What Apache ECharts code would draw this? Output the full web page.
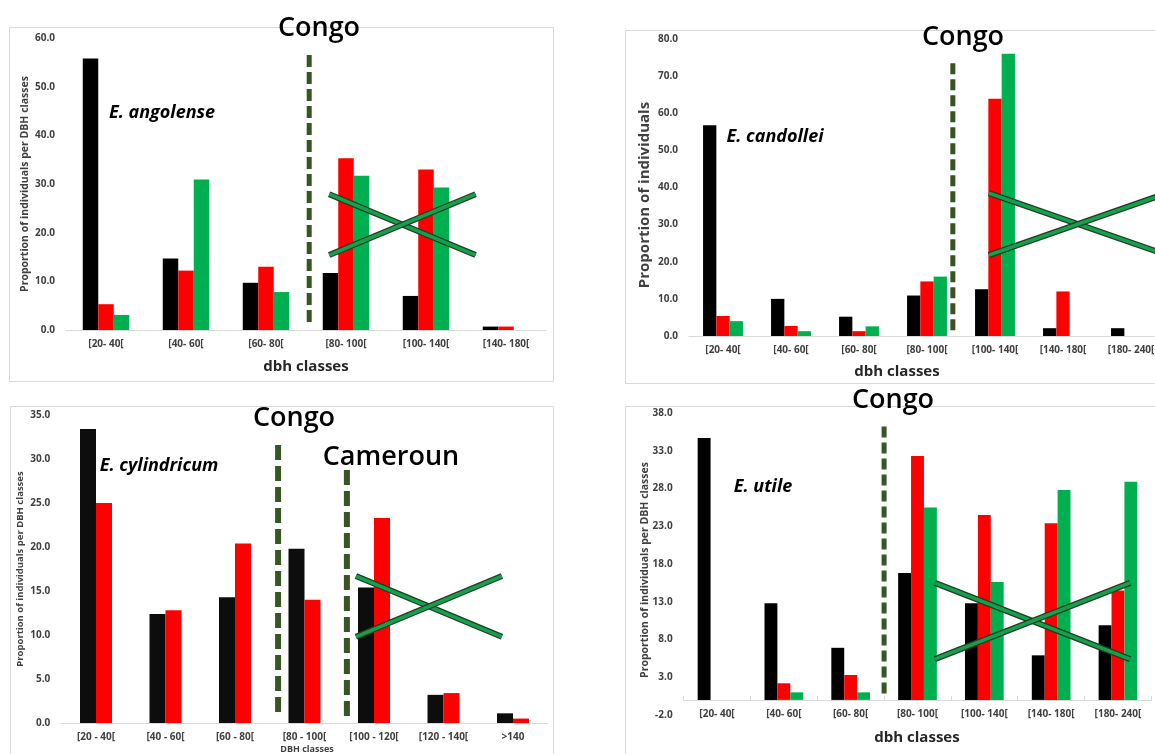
<!DOCTYPE html>
<html>
<head>
<meta charset="utf-8">
<script src="https://cdn.jsdelivr.net/npm/echarts@6/dist/echarts.min.js"></script>
<style>
  html, body { margin: 0; padding: 0; background: #fff; }
  #chart { width: 1155px; height: 754px; }
</style>
</head>
<body>
<div id="chart"></div>
<script>
// E. angolense (top left)
const catsAng = ['[20- 40[', '[40- 60[', '[60- 80[', '[80- 100[', '[100- 140[', '[140- 180[']
const angBlack = [55.8, 14.7, 9.7, 11.7, 7.0, 0.7]
const angRed = [5.3, 12.2, 13.0, 35.3, 33.0, 0.7]
const angGreen = [3.1, 30.9, 7.8, 31.7, 29.3, 0]
const ticksAng = [0, 10, 20, 30, 40, 50, 60]

// E. candollei (top right)
const catsCan = ['[20- 40[', '[40- 60[', '[60- 80[', '[80- 100[', '[100- 140[', '[140- 180[', '[180- 240[']
const canBlack = [56.8, 10.0, 5.2, 10.9, 12.6, 2.1, 2.1]
const canRed = [5.4, 2.7, 1.3, 14.7, 63.9, 12.0, 0]
const canGreen = [4.0, 1.3, 2.6, 16.0, 76.0, 0, 0]
const ticksCan = [0, 10, 20, 30, 40, 50, 60, 70, 80]

// E. cylindricum (bottom left)
const catsCyl = ['[20 - 40[', '[40 - 60[', '[60 - 80[', '[80 - 100[', '[100 - 120[', '[120 - 140[', '>140']
const cylBlack = [33.4, 12.4, 14.3, 19.8, 15.4, 3.2, 1.1]
const cylRed = [25.0, 12.8, 20.4, 14.0, 23.3, 3.4, 0.5]
const ticksCyl = [0, 5, 10, 15, 20, 25, 30, 35]

// E. utile (bottom right)
const catsUti = ['[20- 40[', '[40- 60[', '[60- 80[', '[80- 100[', '[100- 140[', '[140- 180[', '[180- 240[']
const utiBlack = [34.7, 12.8, 6.9, 16.8, 12.8, 5.9, 9.9]
const utiRed = [0, 2.2, 3.3, 32.3, 24.5, 23.4, 14.5]
const utiGreen = [0, 1.0, 1.0, 25.5, 15.6, 27.8, 28.9]
const ticksUti = [-2, 3, 8, 13, 18, 23, 28, 33, 38]

// annotations, in category index / value units
const dashAng = [[2.54, 56.5], [2.54, 1.0]]
const crossAng = [[[2.79, 27.9], [4.62, 15.4]], [[2.79, 15.4], [4.62, 27.9]]]
const dashCan = [[3.38, 73.5], [3.38, 0.8]]
const crossCan = [[[3.91, 38.5], [6.5, 22.0]], [[3.91, 21.8], [6.5, 38.3]]]
const dashCyl1 = [[2.62, 31.6], [2.62, 0.9]]
const dashCyl2 = [[3.61, 28.75], [3.61, 0.6]]
const crossCyl = [[[3.74, 16.7], [5.84, 9.8]], [[3.74, 9.8], [5.84, 16.7]]]
const dashUti = [[2.5, 36.2], [2.5, 0.3]]
const crossUti = [[[3.26, 15.5], [6.18, 5.4]], [[3.26, 5.4], [6.18, 15.5]]]

const FONT = '"Open Sans", sans-serif'
const BLACK = '#000000'
const RED = '#ff0000'
const GREEN = '#00b050'
const DASH = '#375623'

const grids = [
  { left: 66, top: 38, width: 480, height: 292 },
  { left: 689, top: 39, width: 476, height: 297 },
  { left: 61.25, top: 415, width: 486.5, height: 308 },
  { left: 683.6, top: 413, width: 467.8, height: 302 }
]
const catList = [catsAng, catsCan, catsCyl, catsUti]
const tickList = [ticksAng, ticksCan, ticksCyl, ticksUti]

const xAxes = []
const yAxes = []
catList.forEach((cats, i) => {
  xAxes.push({
    type: 'category',
    gridIndex: i,
    data: cats,
    axisLine: { lineStyle: { color: '#d9d9d9', width: 1 } },
    axisTick: i === 3
      ? { show: true, inside: true, length: 4, lineStyle: { color: '#d9d9d9' } }
      : { show: false },
    axisLabel: {
      interval: 0,
      // the last panel's axis sits on 0, not on the grid bottom (-2)
      margin: i === 3 ? -6 : 9,
      fontSize: 10,
      fontWeight: 'bold',
      fontFamily: FONT,
      color: '#404040'
    }
  })
  xAxes.push({
    type: 'value',
    gridIndex: i,
    show: false,
    min: -0.5,
    max: cats.length - 0.5
  })
  const t = tickList[i]
  yAxes.push({
    type: 'value',
    gridIndex: i,
    min: t[0],
    max: t[t.length - 1],
    interval: t[1] - t[0],
    axisLine: { show: false },
    axisTick: { show: false },
    splitLine: { show: false },
    axisLabel: {
      margin: 11,
      fontSize: 10,
      fontWeight: 'bold',
      fontFamily: FONT,
      color: '#404040',
      formatter: v => v.toFixed(1)
    }
  })
})

function bars(data, color, g, w) {
  return {
    type: 'bar',
    data: data,
    xAxisIndex: g * 2,
    yAxisIndex: g,
    barWidth: w,
    barGap: '0%',
    itemStyle: { color: color },
    silent: true
  }
}

function seg(g, pts, color, width, dash) {
  return {
    type: 'line',
    data: pts,
    xAxisIndex: g * 2 + 1,
    yAxisIndex: g,
    symbol: 'none',
    silent: true,
    clip: false,
    z: 5,
    lineStyle: { color: color, width: width, type: dash || 'solid', cap: 'butt' }
  }
}

function cross(g, lines) {
  const out = []
  lines.forEach(l => {
    out.push(seg(g, l, '#1f3d27', 6))
    out.push(seg(g, l, '#17a04c', 3.5))
  })
  return out
}

const series = [
  bars(angBlack, BLACK, 0, 15.5),
  bars(angRed, RED, 0, 15.5),
  bars(angGreen, GREEN, 0, 15.5),
  bars(canBlack, BLACK, 1, 13.3),
  bars(canRed, RED, 1, 13.3),
  bars(canGreen, GREEN, 1, 13.3),
  bars(cylBlack, '#0d0d0d', 2, 16),
  bars(cylRed, RED, 2, 16),
  bars(utiBlack, BLACK, 3, 12.9),
  bars(utiRed, RED, 3, 12.9),
  bars(utiGreen, GREEN, 3, 12.9),
  seg(0, dashAng, DASH, 5, [12, 5]),
  seg(1, dashCan, DASH, 5, [11, 5]),
  seg(2, dashCyl1, DASH, 6, [15, 6]),
  seg(2, dashCyl2, DASH, 6, [15, 6]),
  seg(3, dashUti, DASH, 5, [11, 5])
].concat(cross(0, crossAng), cross(1, crossCan), cross(2, crossCyl), cross(3, crossUti))

function txt(x, y, text, font, fill, rot) {
  return {
    type: 'text',
    x: x,
    y: y,
    rotation: rot || 0,
    z: 100,
    style: {
      text: text,
      font: font,
      fill: fill || '#000',
      textAlign: 'center',
      textVerticalAlign: 'middle'
    }
  }
}

function box(x, y, w, h) {
  return {
    type: 'rect',
    z: -10,
    shape: { x: x, y: y, width: w, height: h },
    style: { fill: null, stroke: '#d9d9d9', lineWidth: 1 }
  }
}

const R = Math.PI / 2
const BIG = '600 27px ' + FONT
const SPECIES = 'italic bold 18px ' + FONT
const graphics = [
  box(9.5, 27.5, 544, 354),
  box(625.5, 30.5, 560, 353),
  box(10.5, 406.5, 543, 380),
  box(625.5, 406.5, 560, 380),

  txt(319, 28, 'Congo', BIG),
  txt(162, 113, 'E. angolense', SPECIES),
  txt(25, 184, 'Proportion of individuals per DBH classes', 'bold 10.5px ' + FONT, '#404040', R),
  txt(306, 367, 'dbh classes', 'bold 15px ' + FONT, '#262626'),

  txt(963, 37, 'Congo', BIG),
  txt(775, 137, 'E. candollei', SPECIES),
  txt(645, 195, 'Proportion of individuals', 'bold 15px ' + FONT, '#404040', R),
  txt(897, 372, 'dbh classes', 'bold 15px ' + FONT, '#262626'),

  txt(294, 418, 'Congo', BIG),
  txt(391, 457, 'Cameroun', BIG),
  txt(159, 466, 'E. cylindricum', SPECIES),
  txt(20, 569, 'Proportion of individuals per DBH classes', 'bold 9.5px ' + FONT, '#404040', R),
  txt(307, 749, 'DBH classes', 'bold 9px ' + FONT, '#404040'),

  txt(893, 400, 'Congo', BIG),
  txt(763, 487, 'E. utile', SPECIES),
  txt(645, 570, 'Proportion of individuals per DBH classes', 'bold 10.5px ' + FONT, '#404040', R),
  txt(917, 738, 'dbh classes', 'bold 15px ' + FONT, '#262626')
]

const chart = echarts.init(document.getElementById('chart'))
chart.setOption({
  backgroundColor: '#fff',
  animation: false,
  grid: grids.map(g => Object.assign({ outerBoundsMode: 'none', containLabel: false }, g)),
  xAxis: xAxes,
  yAxis: yAxes,
  series: series,
  graphic: graphics
})
</script>
</body>
</html>
